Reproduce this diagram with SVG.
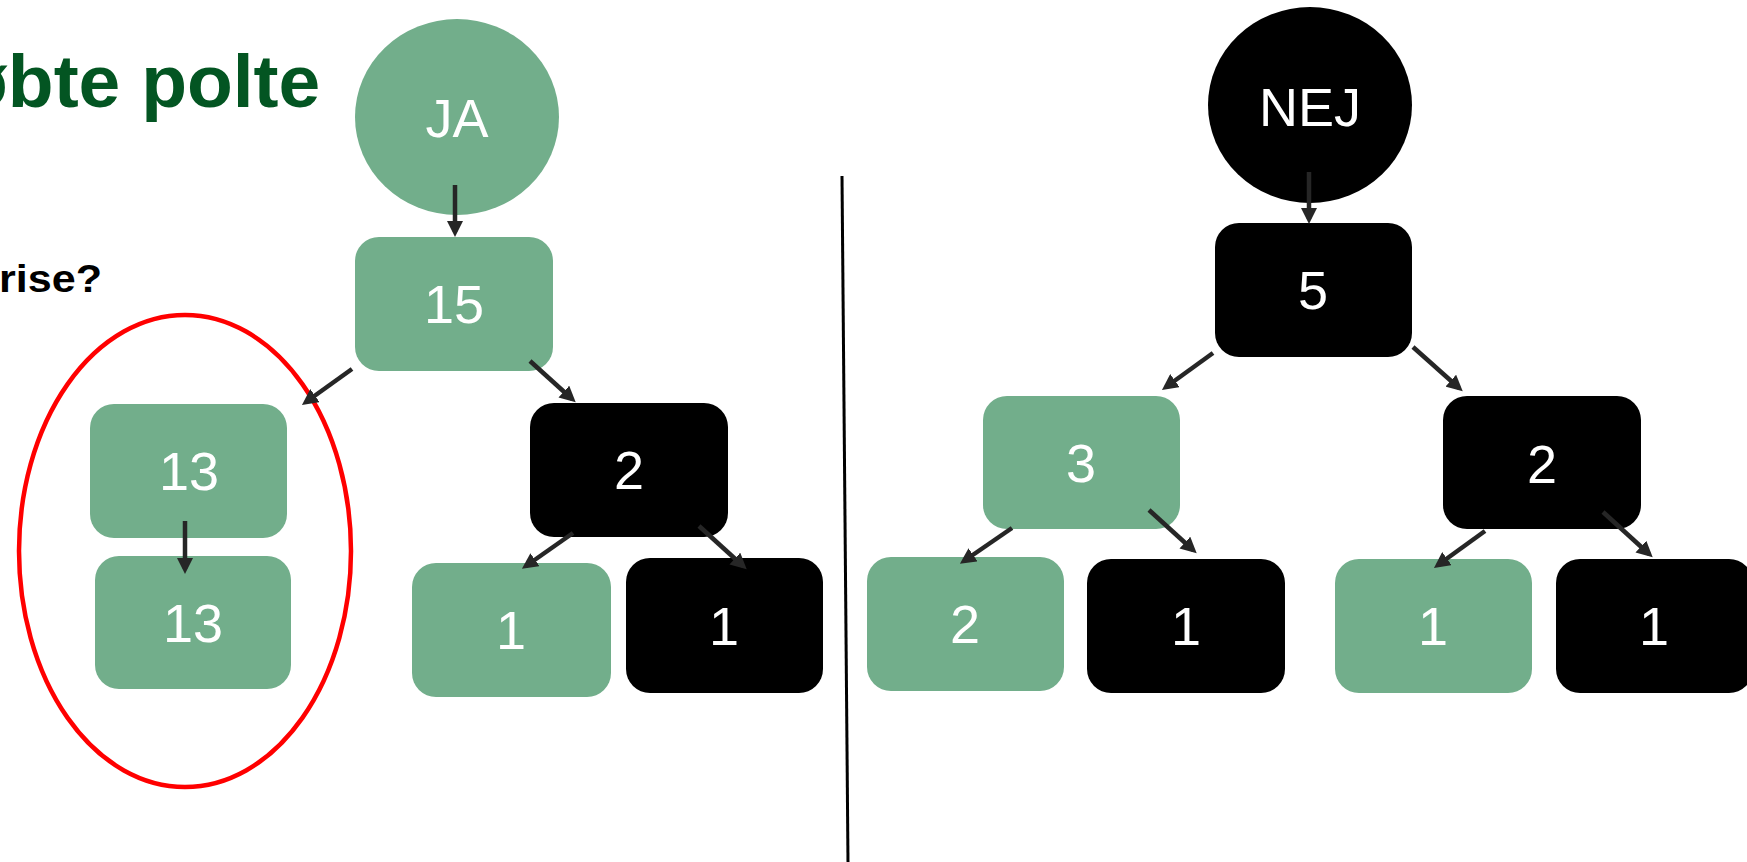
<svg xmlns="http://www.w3.org/2000/svg" width="1747" height="862" viewBox="0 0 1747 862">
  <style>
    .g { fill: #72AE8B; }
    .k { fill: #000000; }
    .lbl { font-family: "Liberation Sans", Arial, sans-serif; font-size: 54px; fill: #ffffff; text-anchor: middle; }
    .conn line { stroke: #262626; stroke-width: 4.5; fill: none; marker-end: url(#ah); }
    .title { font-family: "Liberation Sans", Arial, sans-serif; font-weight: bold; font-size: 75px; fill: #035522; }
    .sub { font-family: "Liberation Sans", Arial, sans-serif; font-weight: bold; font-size: 39px; fill: #000000; }
  </style>
  <defs>
    <marker id="ah" markerUnits="userSpaceOnUse" markerWidth="16" markerHeight="16" viewBox="0 0 16 16" refX="11" refY="8" orient="auto">
      <path d="M0,0 L16,8 L0,16 z" fill="#262626"/>
    </marker>
  </defs>
  <rect x="0" y="0" width="1747" height="862" fill="#ffffff"/>

  <text class="title" x="-38" y="107">øbte polte</text>
  <text class="sub" x="-1" y="292" textLength="103" lengthAdjust="spacingAndGlyphs">rise?</text>

  <line x1="842" y1="176" x2="848" y2="862" stroke="#000000" stroke-width="3"/>

  <ellipse id="highlight" cx="185" cy="551" rx="166" ry="236" fill="none" stroke="#ff0000" stroke-width="4.5"/>

  <!-- Left tree -->
  <g id="ja"><ellipse class="g" cx="457" cy="117" rx="102" ry="98"/><text class="lbl" x="457" y="137">JA</text></g>
  <g id="n15"><rect class="g" x="355" y="237" width="198" height="134" rx="24"/><text class="lbl" x="454" y="323">15</text></g>
  <g id="n13a"><rect class="g" x="90" y="404" width="197" height="134" rx="24"/><text class="lbl" x="189" y="490">13</text></g>
  <g id="n13b"><rect class="g" x="95" y="556" width="196" height="133" rx="24"/><text class="lbl" x="193" y="642">13</text></g>
  <g id="n2l"><rect class="k" x="530" y="403" width="198" height="134" rx="24"/><text class="lbl" x="629" y="489">2</text></g>
  <g id="n1gl"><rect class="g" x="412" y="563" width="199" height="134" rx="24"/><text class="lbl" x="511" y="649">1</text></g>
  <g id="n1kl"><rect class="k" x="626" y="558" width="197" height="135" rx="24"/><text class="lbl" x="724" y="645">1</text></g>

  <!-- Right tree -->
  <g id="nej"><ellipse class="k" cx="1310" cy="105" rx="102" ry="98"/><text class="lbl" x="1310" y="126">NEJ</text></g>
  <g id="n5"><rect class="k" x="1215" y="223" width="197" height="134" rx="24"/><text class="lbl" x="1313" y="309">5</text></g>
  <g id="n3"><rect class="g" x="983" y="396" width="197" height="133" rx="24"/><text class="lbl" x="1081" y="482">3</text></g>
  <g id="n2r"><rect class="k" x="1443" y="396" width="198" height="133" rx="24"/><text class="lbl" x="1542" y="483">2</text></g>
  <g id="n2g"><rect class="g" x="867" y="557" width="197" height="134" rx="24"/><text class="lbl" x="965" y="643">2</text></g>
  <g id="n1k1"><rect class="k" x="1087" y="559" width="198" height="134" rx="24"/><text class="lbl" x="1186" y="645">1</text></g>
  <g id="n1g2"><rect class="g" x="1335" y="559" width="197" height="134" rx="24"/><text class="lbl" x="1433" y="645">1</text></g>
  <g id="n1k2"><rect class="k" x="1556" y="559" width="197" height="134" rx="24"/><text class="lbl" x="1654" y="645">1</text></g>

  <g id="connectors" class="conn">
    <line x1="455" y1="185" x2="455" y2="232"/>
    <line x1="352" y1="369" x2="306" y2="402"/>
    <line x1="530" y1="361" x2="572" y2="399"/>
    <line x1="185" y1="521" x2="185" y2="569"/>
    <line x1="573" y1="533" x2="526" y2="566"/>
    <line x1="699" y1="526" x2="743" y2="566"/>
    <line x1="1309" y1="172" x2="1309" y2="219"/>
    <line x1="1213" y1="353" x2="1166" y2="387"/>
    <line x1="1413" y1="347" x2="1459" y2="388"/>
    <line x1="1012" y1="528" x2="964" y2="561"/>
    <line x1="1149" y1="510" x2="1193" y2="550"/>
    <line x1="1485" y1="531" x2="1438" y2="565"/>
    <line x1="1603" y1="512" x2="1649" y2="554"/>
  </g>
</svg>
